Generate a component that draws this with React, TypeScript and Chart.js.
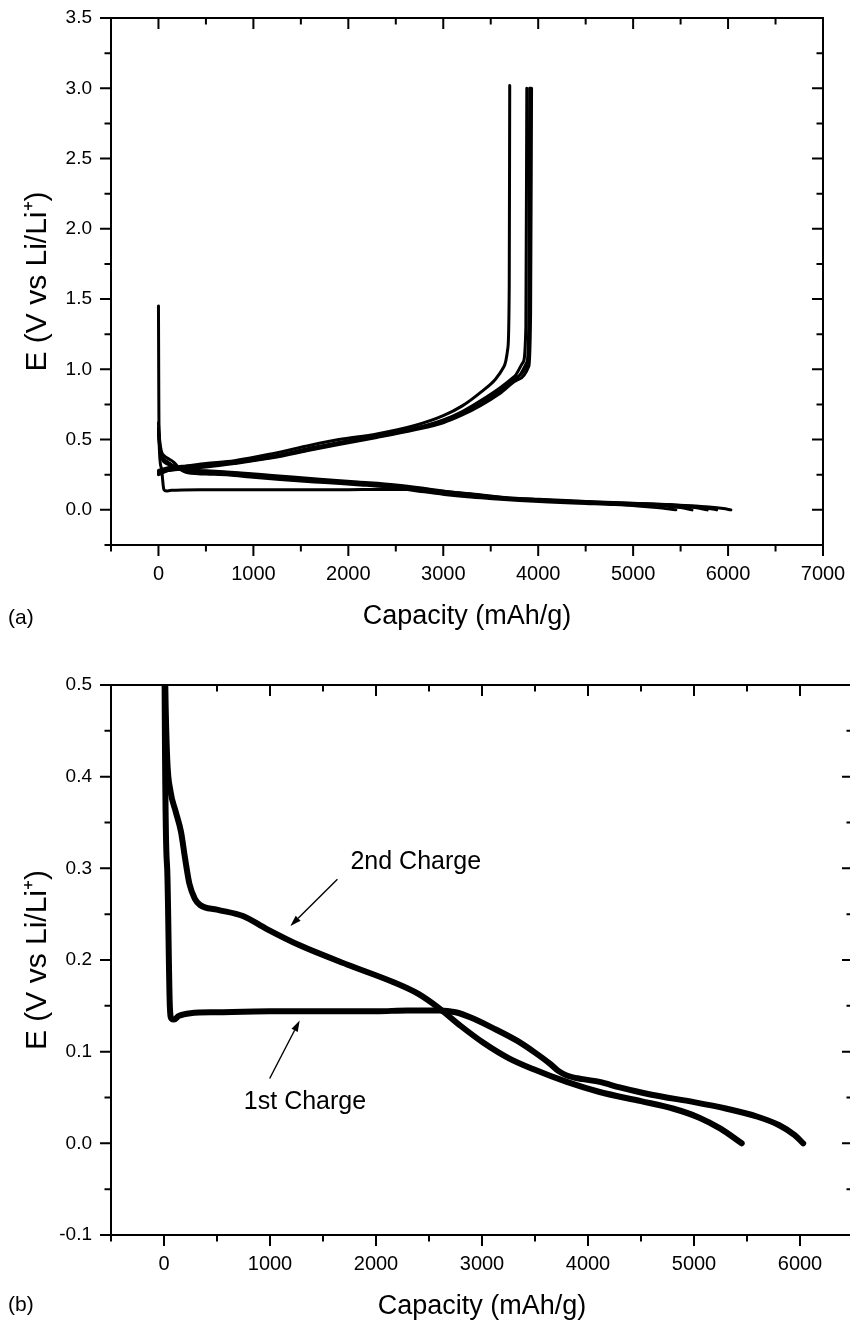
import React, { useEffect, useRef } from 'react';
import { Chart, registerables } from 'chart.js';

Chart.register(...registerables);

type Pt = [number, number];

const FONT = '"Liberation Sans", Arial, Helvetica, sans-serif';

// ---------------- Axis ticks ----------------
const xTicksA = [-500, 0, 500, 1000, 1500, 2000, 2500, 3000, 3500, 4000, 4500, 5000, 5500, 6000, 6500, 7000];
const xMajorA = [0, 1000, 2000, 3000, 4000, 5000, 6000, 7000];
const xLabelsA = ['0', '1000', '2000', '3000', '4000', '5000', '6000', '7000'];
const yTicksA = [-0.25, 0, 0.25, 0.5, 0.75, 1, 1.25, 1.5, 1.75, 2, 2.25, 2.5, 2.75, 3, 3.25, 3.5];
const yMajorA = [0, 0.5, 1, 1.5, 2, 2.5, 3, 3.5];
const yLabelsA = ['0.0', '0.5', '1.0', '1.5', '2.0', '2.5', '3.0', '3.5'];

const xTicksB = [-500, 0, 500, 1000, 1500, 2000, 2500, 3000, 3500, 4000, 4500, 5000, 5500, 6000, 6500];
const xMajorB = [0, 1000, 2000, 3000, 4000, 5000, 6000];
const xLabelsB = ['0', '1000', '2000', '3000', '4000', '5000', '6000'];
const yTicksB = [-0.1, -0.05, 0, 0.05, 0.1, 0.15, 0.2, 0.25, 0.3, 0.35, 0.4, 0.45, 0.5];
const yMajorB = [-0.1, 0, 0.1, 0.2, 0.3, 0.4, 0.5];
const yLabelsB = ['-0.1', '0.0', '0.1', '0.2', '0.3', '0.4', '0.5'];

// ---------------- Data: lithiation (E falling) ----------------
const lith1: Pt[] = [
  [0, 1.45], [3, 0.9], [6, 0.5], [30, 0.3], [55, 0.15], [70, 0.136], [95, 0.135], [140, 0.139],
  [250, 0.142], [500, 0.143], [1000, 0.144], [1500, 0.144], [2000, 0.144], [2300, 0.145],
  [2600, 0.145], [2750, 0.143], [2900, 0.137], [3100, 0.126], [3330, 0.112], [3500, 0.099],
  [3640, 0.087], [3720, 0.079], [3800, 0.074], [3950, 0.07], [4110, 0.067], [4300, 0.061],
  [4600, 0.053], [5000, 0.045], [5300, 0.038], [5600, 0.029], [5800, 0.02], [5950, 0.009], [6030, 0.0],
];
const lith2: Pt[] = [
  [0, 0.62], [12, 0.5], [30, 0.42], [60, 0.385], [110, 0.362], [160, 0.34], [200, 0.31],
  [240, 0.283], [290, 0.267], [340, 0.26], [500, 0.255], [745, 0.248], [966, 0.234],
  [1280, 0.216], [1752, 0.194], [2160, 0.176], [2400, 0.163], [2600, 0.147], [2800, 0.128],
  [3010, 0.11], [3250, 0.093], [3481, 0.081], [3800, 0.067], [4110, 0.056], [4500, 0.046],
  [4800, 0.038], [5050, 0.028], [5250, 0.016], [5450, 0.0],
];
const lith3: Pt[] = [
  [0, 0.58], [15, 0.45], [40, 0.38], [100, 0.34], [200, 0.3], [300, 0.28], [500, 0.268],
  [800, 0.255], [1200, 0.232], [1700, 0.205], [2100, 0.186], [2500, 0.165], [2800, 0.14],
  [3100, 0.114], [3500, 0.088], [4000, 0.068], [4500, 0.054], [5000, 0.041], [5300, 0.03],
  [5500, 0.016], [5620, 0.0],
];
const lith4: Pt[] = [
  [0, 0.56], [15, 0.44], [40, 0.37], [100, 0.33], [200, 0.295], [300, 0.285], [500, 0.275],
  [800, 0.262], [1200, 0.24], [1700, 0.212], [2100, 0.192], [2500, 0.172], [2800, 0.148],
  [3100, 0.12], [3500, 0.092], [4000, 0.072], [4500, 0.057], [5000, 0.044], [5400, 0.032],
  [5650, 0.016], [5780, 0.0],
];
const lith5: Pt[] = [
  [0, 0.55], [15, 0.43], [40, 0.36], [100, 0.325], [200, 0.29], [300, 0.283], [500, 0.278],
  [800, 0.266], [1200, 0.245], [1700, 0.218], [2100, 0.198], [2500, 0.177], [2800, 0.153],
  [3100, 0.125], [3500, 0.096], [4000, 0.075], [4500, 0.06], [5000, 0.047], [5400, 0.036],
  [5700, 0.02], [5880, 0.0],
];

// ---------------- Data: delithiation (E rising) ----------------
const delith1: Pt[] = [
  [0, 0.28], [100, 0.3], [250, 0.31], [500, 0.33], [800, 0.35], [1200, 0.4], [1600, 0.46],
  [1900, 0.5], [2300, 0.54], [2700, 0.6], [3000, 0.67], [3200, 0.74], [3400, 0.84],
  [3550, 0.93], [3640, 1.02], [3680, 1.15], [3695, 1.6], [3700, 3.02],
];
const delith2: Pt[] = [
  [0, 0.26], [100, 0.29], [250, 0.3], [500, 0.32], [800, 0.34], [1200, 0.38], [1600, 0.44],
  [1900, 0.48], [2300, 0.53], [2700, 0.58], [3000, 0.64], [3200, 0.7], [3400, 0.78],
  [3600, 0.87], [3750, 0.95], [3840, 1.05], [3870, 1.3], [3880, 3.0],
];
const delith3: Pt[] = [
  [0, 0.27], [100, 0.28], [250, 0.295], [500, 0.31], [800, 0.335], [1200, 0.375], [1600, 0.43],
  [1900, 0.47], [2300, 0.52], [2700, 0.575], [3000, 0.63], [3200, 0.685], [3400, 0.76],
  [3600, 0.85], [3780, 0.94], [3880, 1.05], [3900, 1.3], [3910, 3.0],
];
const delith4: Pt[] = [
  [0, 0.25], [100, 0.28], [250, 0.29], [500, 0.305], [800, 0.33], [1200, 0.37], [1600, 0.425],
  [1900, 0.465], [2300, 0.515], [2700, 0.57], [3000, 0.62], [3200, 0.675], [3400, 0.745],
  [3600, 0.83], [3800, 0.93], [3900, 1.02], [3920, 1.4], [3930, 3.0],
];
const delith5: Pt[] = [
  [0, 0.27], [100, 0.285], [250, 0.3], [500, 0.315], [800, 0.34], [1200, 0.38], [1600, 0.435],
  [1900, 0.475], [2300, 0.525], [2700, 0.58], [3000, 0.635], [3200, 0.69], [3400, 0.77],
  [3600, 0.86], [3790, 0.95], [3890, 1.04], [3910, 1.35], [3920, 3.0],
];

const curvesA: Pt[][] = [lith1, lith2, lith3, lith4, lith5, delith1, delith2, delith3, delith4, delith5];
const curvesB: Pt[][] = [lith1, lith2];

// annotations for panel (b), in data coordinates
const notesB = [
  { text: '2nd Charge', at: [2375, 0.3065] as Pt, from: [1636, 0.288] as Pt, to: [1192, 0.237] as Pt },
  { text: '1st Charge', at: [1330, 0.0446] as Pt, from: [997, 0.0707] as Pt, to: [1280, 0.134] as Pt },
];

function labelFor(majors: number[], labels: string[]) {
  return (v: number | string) => {
    const n = Number(v);
    const i = majors.findIndex((m) => Math.abs(m - n) < 1e-9);
    return i >= 0 ? labels[i] : '';
  };
}

type Note = { text: string; at: Pt; from: Pt; to: Pt };

function makeDecor(panel: string, panelY: number, notes: Note[]) {
  return {
    id: 'decor',
    afterDraw(chart: any) {
      const { ctx, chartArea } = chart;
      const { left, right, top, bottom } = chartArea;
      const xs = chart.scales.x;
      const ys = chart.scales.y;
      ctx.save();
      ctx.strokeStyle = '#000';
      ctx.fillStyle = '#000';
      ctx.lineWidth = 2;
      ctx.strokeRect(left, top, right - left, bottom - top);
      const maj = 11;
      const min = 6.5;
      ctx.beginPath();
      xs.ticks.forEach((t: any) => {
        const p = xs.getPixelForValue(t.value);
        const len = t.label ? maj : min;
        ctx.moveTo(p, bottom);
        ctx.lineTo(p, bottom + len);
        ctx.moveTo(p, top);
        ctx.lineTo(p, top + len);
      });
      ys.ticks.forEach((t: any) => {
        const p = ys.getPixelForValue(t.value);
        const len = t.label ? maj : min;
        ctx.moveTo(left, p);
        ctx.lineTo(left - len, p);
        ctx.moveTo(right, p);
        ctx.lineTo(right - len, p);
      });
      ctx.stroke();

      // panel label
      ctx.font = `21px ${FONT}`;
      ctx.textAlign = 'left';
      ctx.textBaseline = 'middle';
      ctx.fillText(panel, 8, panelY);

      // annotations
      notes.forEach((n) => {
        ctx.font = `25px ${FONT}`;
        ctx.textAlign = 'center';
        ctx.textBaseline = 'middle';
        ctx.fillText(n.text, xs.getPixelForValue(n.at[0]), ys.getPixelForValue(n.at[1]));
        const x0 = xs.getPixelForValue(n.from[0]);
        const y0 = ys.getPixelForValue(n.from[1]);
        const x1 = xs.getPixelForValue(n.to[0]);
        const y1 = ys.getPixelForValue(n.to[1]);
        const ang = Math.atan2(y1 - y0, x1 - x0);
        const hl = 11;
        const hw = 3.5;
        const bx = x1 - hl * Math.cos(ang);
        const by = y1 - hl * Math.sin(ang);
        ctx.lineWidth = 1.4;
        ctx.beginPath();
        ctx.moveTo(x0, y0);
        ctx.lineTo(bx, by);
        ctx.stroke();
        ctx.beginPath();
        ctx.moveTo(x1, y1);
        ctx.lineTo(bx + hw * Math.sin(ang), by - hw * Math.cos(ang));
        ctx.lineTo(bx - hw * Math.sin(ang), by + hw * Math.cos(ang));
        ctx.closePath();
        ctx.fill();
      });
      ctx.restore();
    },
  };
}

function makeConfig(opts: {
  curves: Pt[][];
  lineWidth: number;
  xMin: number; xMax: number; xTicks: number[]; xMajor: number[]; xLabels: string[];
  yMin: number; yMax: number; yTicks: number[]; yMajor: number[]; yLabels: string[];
  padTop: number; padRight: number; xHeight: number; yWidth: number; xTitlePad: number;
  panel: string; panelY: number; notes: Note[];
}): any {
  return {
    type: 'line',
    data: {
      datasets: opts.curves.map((c) => ({
        data: c.map(([x, y]) => ({ x, y })),
        borderColor: '#000',
        borderWidth: opts.lineWidth,
        pointRadius: 0,
        fill: false,
        cubicInterpolationMode: 'monotone',
        borderCapStyle: 'round',
        borderJoinStyle: 'round',
        clip: 0,
      })),
    },
    options: {
      animation: false,
      responsive: false,
      maintainAspectRatio: false,
      devicePixelRatio: 1,
      events: [],
      layout: { padding: { top: opts.padTop, right: opts.padRight, left: 0, bottom: 0 } },
      plugins: { legend: { display: false }, tooltip: { enabled: false } },
      scales: {
        x: {
          type: 'linear',
          position: 'bottom',
          min: opts.xMin,
          max: opts.xMax,
          afterBuildTicks: (s: any) => { s.ticks = opts.xTicks.map((v) => ({ value: v })); },
          afterFit: (s: any) => {
            s.height = opts.xHeight;
            s.paddingLeft = 0; s.paddingRight = 0; s.paddingTop = 0; s.paddingBottom = 0;
          },
          grid: { display: false, drawTicks: false },
          border: { display: false },
          ticks: {
            autoSkip: false, maxRotation: 0, minRotation: 0, padding: 17, color: '#000',
            font: { family: FONT, size: 20 },
            callback: labelFor(opts.xMajor, opts.xLabels),
          },
          title: {
            display: true, text: 'Capacity (mAh/g)', color: '#000',
            font: { family: FONT, size: 27 }, padding: { top: 0, bottom: opts.xTitlePad },
          },
        },
        y: {
          type: 'linear',
          position: 'left',
          min: opts.yMin,
          max: opts.yMax,
          afterBuildTicks: (s: any) => { s.ticks = opts.yTicks.map((v) => ({ value: v })); },
          afterFit: (s: any) => {
            s.width = opts.yWidth;
            s.paddingLeft = 0; s.paddingRight = 0; s.paddingTop = 0; s.paddingBottom = 0;
          },
          grid: { display: false, drawTicks: false },
          border: { display: false },
          ticks: {
            autoSkip: false, padding: 19, color: '#000',
            font: { family: FONT, size: 19 },
            callback: labelFor(opts.yMajor, opts.yLabels),
          },
          title: {
            display: true, text: 'E (V vs Li/Li\u207A)', color: '#000',
            font: { family: FONT, size: 30 }, padding: { top: 20, bottom: 0 },
          },
        },
      },
    },
    plugins: [makeDecor(opts.panel, opts.panelY, opts.notes)],
  };
}

export default function App() {
  const refA = useRef<HTMLCanvasElement>(null);
  const refB = useRef<HTMLCanvasElement>(null);

  useEffect(() => {
    const a = new Chart(refA.current as HTMLCanvasElement, makeConfig({
      curves: curvesA, lineWidth: 3,
      xMin: -500, xMax: 7000, xTicks: xTicksA, xMajor: xMajorA, xLabels: xLabelsA,
      yMin: -0.25, yMax: 3.5, yTicks: yTicksA, yMajor: yMajorA, yLabels: yLabelsA,
      padTop: 18, padRight: 27, xHeight: 95, yWidth: 111, xTitlePad: 7,
      panel: '(a)', panelY: 618, notes: [],
    }));
    const b = new Chart(refB.current as HTMLCanvasElement, makeConfig({
      curves: curvesB, lineWidth: 6,
      xMin: -500, xMax: 6500, xTicks: xTicksB, xMajor: xMajorB, xLabels: xLabelsB,
      yMin: -0.1, yMax: 0.5, yTicks: yTicksB, yMajor: yMajorB, yLabels: yLabelsB,
      padTop: 45, padRight: 27, xHeight: 86, yWidth: 111, xTitlePad: -1.5,
      panel: '(b)', panelY: 665, notes: notesB,
    }));
    return () => { a.destroy(); b.destroy(); };
  }, []);

  return (
    <div style={{ position: 'absolute', left: 0, top: 0, width: 850, height: 1321, overflow: 'hidden', background: '#fff' }}>
      <canvas ref={refA} width={850} height={640} style={{ position: 'absolute', left: 0, top: 0, width: 850, height: 640 }} />
      <canvas ref={refB} width={880} height={681} style={{ position: 'absolute', left: 0, top: 640, width: 880, height: 681 }} />
    </div>
  );
}
